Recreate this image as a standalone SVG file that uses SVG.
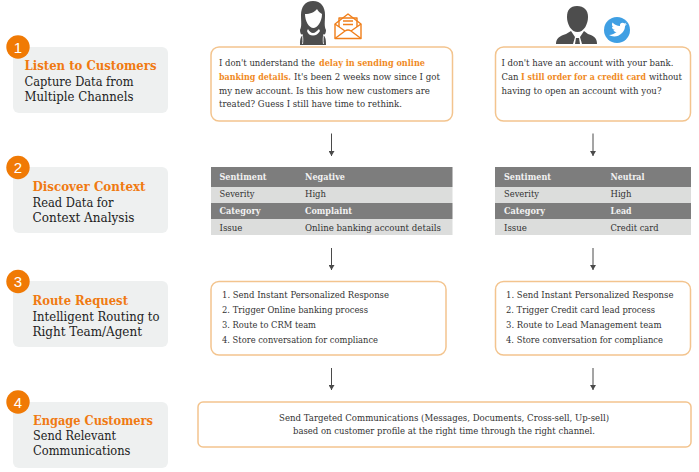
<svg xmlns="http://www.w3.org/2000/svg" width="699" height="472" viewBox="0 0 699 472">
<style>
text{font-family:"DejaVu Serif","Liberation Serif",serif;font-size:9.200px;fill:#333}
.h{font-size:13.500px;font-weight:bold;fill:#f07a12}
.s{font-size:13.500px;fill:#222}
.o{font-size:8.800px;font-weight:bold;fill:#f08a24}
.w{font-weight:bold;fill:#f2f2f2}
.n{font-family:"Liberation Sans",sans-serif;font-size:15px;fill:#fff;text-anchor:middle}
.p{fill:#eef0f0}
.c{fill:#f07a05}
.b{fill:#fff;stroke:#f3c48e;stroke-width:1.5}
.d{fill:#7d7d7d}
.l{fill:#dcdddc}
.a{stroke:#4a4a4a;stroke-width:1;fill:none;marker-end:url(#ah)}
.i{fill:#4d4d4d}
.e{fill:none;stroke:#f07f1a;stroke-width:1.400;stroke-linejoin:round}
</style>
<defs>
<marker id="ah" markerUnits="userSpaceOnUse" markerWidth="6" markerHeight="6" refX="5" refY="3" orient="auto"><path d="M0 0L5 3L0 6Z" fill="#4a4a4a"/></marker>
</defs>
<g id="connectors">
<path class="a" d="M331.500 133.500V156"/><path class="a" d="M593 133.500V156"/>
<path class="a" d="M331.500 248V270"/><path class="a" d="M593 248V270"/>
<path class="a" d="M331.500 368V390"/><path class="a" d="M593 368V390"/>
</g>
<g id="step1">
<rect class="p" x="13" y="47" width="155" height="66" rx="6"/>
<circle class="c" cx="18" cy="47" r="11.700"/><text class="n" x="18" y="52.500">1</text>
<text class="h" x="24.500" y="70" textLength="132" lengthAdjust="spacingAndGlyphs">Listen to Customers</text>
<text class="s" x="24.500" y="86" textLength="109" lengthAdjust="spacingAndGlyphs">Capture Data from</text>
<text class="s" x="24.500" y="101" textLength="109" lengthAdjust="spacingAndGlyphs">Multiple Channels</text>
</g>
<g id="step2">
<rect class="p" x="13" y="167" width="155" height="66" rx="6"/>
<circle class="c" cx="18" cy="167.500" r="11.700"/><text class="n" x="18" y="173">2</text>
<text class="h" x="32.500" y="191" textLength="113" lengthAdjust="spacingAndGlyphs">Discover Context</text>
<text class="s" x="32.500" y="207" textLength="81" lengthAdjust="spacingAndGlyphs">Read Data for</text>
<text class="s" x="32.500" y="222" textLength="102" lengthAdjust="spacingAndGlyphs">Context Analysis</text>
</g>
<g id="step3">
<rect class="p" x="13" y="281" width="155" height="66" rx="6"/>
<circle class="c" cx="18" cy="281.500" r="11.700"/><text class="n" x="18" y="287">3</text>
<text class="h" x="32.500" y="305" textLength="95.500" lengthAdjust="spacingAndGlyphs">Route Request</text>
<text class="s" x="32.500" y="321" textLength="127" lengthAdjust="spacingAndGlyphs">Intelligent Routing to</text>
<text class="s" x="32.500" y="336" textLength="109.500" lengthAdjust="spacingAndGlyphs">Right Team/Agent</text>
</g>
<g id="step4">
<rect class="p" x="13" y="402" width="155" height="66" rx="6"/>
<circle class="c" cx="18" cy="402" r="11.700"/><text class="n" x="18" y="407.500">4</text>
<text class="h" x="33" y="425" textLength="120" lengthAdjust="spacingAndGlyphs">Engage Customers</text>
<text class="s" x="33" y="440" textLength="83" lengthAdjust="spacingAndGlyphs">Send Relevant</text>
<text class="s" x="33" y="455" textLength="97.500" lengthAdjust="spacingAndGlyphs">Communications</text>
</g>
<g id="woman-icon">
<path class="i" d="M313 1C305 1 301 7 301 15C301 22 302 26 300 30C300 33 301 35 303 35C300 37 300 41 300 45H326C326 41 326 37 323 35C325 35 326 33 326 30C324 26 325 22 325 15C325 7 321 1 313 1Z"/>
<path d="M305 14C310 14 315 12 317 9C318 11 320 13 322 14C322 22 317 28 313.500 28C309 28 305 21 305 14Z" fill="#fff"/>
<path d="M308 29C309 31 311 33 313 33C315 33 317 31 319 29L320 31C318 34 316 35.500 313 35.500C310 35.500 308 34 307 31Z" fill="#fff"/>
<path d="M302 34C303 37 303 41 302.500 44M324 34C323 37 323 41 323.500 44" stroke="#fff" stroke-width="0.800" fill="none"/>
</g>
<g id="email-icon">
<path class="e" d="M335 24L348 14L361 24V38.500H335Z"/>
<path class="e" d="M339 27V18H357V27"/>
<path class="e" d="M335 24L345 31M361 24L351 31M335 38.500L345 31Q348 29 351 31L361 38.500"/>
<path class="e" d="M343 21H353M343 24.500H353"/>
</g>
<g id="man-icon">
<path class="i" d="M577 6C570 6 567 10 567 17C567 24 571 32 577.500 32C584 32 588 24 588 17C588 10 584 6 577 6Z"/>
<path class="i" d="M556 44C556 38 560 36 566 34L571 31L575 37L573 44ZM597 44C597 38 594 36 588 34L584 31L580 37L582 44Z"/>
<path class="i" d="M576 38H579L580 44H575Z"/>
</g>
<g id="twitter-icon">
<circle cx="617" cy="30" r="13" fill="#3f9fe3"/>
<path d="M609 35C612 37 618 37.500 622 33C625 30 625 27 625 26L627 24L625 24.500L626.500 22.500L624.500 23.500C623 22 619.500 22.500 620 26C617 26 614.500 24.500 612.500 22.500C611.500 24.500 612 26 613.500 27L612 26.700C612 28.500 613 29.500 615 30H613.500C614 31.500 615 32 616.500 32C615 33.500 612 35 609 35Z" fill="#fff"/>
</g>
<g id="message-left">
<rect class="b" x="211" y="47" width="241.500" height="74" rx="8"/>
<text x="219" y="66" textLength="96" lengthAdjust="spacingAndGlyphs">I don't understand the</text>
<text class="o" x="319" y="66" textLength="106" lengthAdjust="spacingAndGlyphs">delay in sending online</text>
<text class="o" x="219" y="80" textLength="72" lengthAdjust="spacingAndGlyphs">banking details.</text>
<text x="294" y="80" textLength="146" lengthAdjust="spacingAndGlyphs">It's been 2 weeks now since I got</text>
<text x="219" y="93.500" textLength="211" lengthAdjust="spacingAndGlyphs">my new account. Is this how new customers are</text>
<text x="219" y="107" textLength="183" lengthAdjust="spacingAndGlyphs">treated? Guess I still have time to rethink.</text>
</g>
<g id="message-right">
<rect class="b" x="495.500" y="47" width="195" height="74" rx="8"/>
<text x="501.500" y="66" textLength="172" lengthAdjust="spacingAndGlyphs">I don't have an account with your bank.</text>
<text x="501.500" y="80" textLength="17" lengthAdjust="spacingAndGlyphs">Can</text>
<text class="o" x="521" y="80" textLength="125" lengthAdjust="spacingAndGlyphs">I still order for a credit card</text>
<text x="649" y="80" textLength="33" lengthAdjust="spacingAndGlyphs">without</text>
<text x="501.500" y="93.500" textLength="160" lengthAdjust="spacingAndGlyphs">having to open an account with you?</text>
</g>
<g id="table-left">
<rect class="d" x="211" y="167" width="241.500" height="20"/><rect class="l" x="211" y="187" width="241.500" height="16"/>
<rect class="d" x="211" y="203" width="241.500" height="16"/><rect class="l" x="211" y="219" width="241.500" height="16"/>
<text class="w" x="219.500" y="180" textLength="47" lengthAdjust="spacingAndGlyphs">Sentiment</text><text class="w" x="305" y="180" textLength="40" lengthAdjust="spacingAndGlyphs">Negative</text>
<text x="219.500" y="197" textLength="35" lengthAdjust="spacingAndGlyphs">Severity</text><text x="305" y="197" textLength="21" lengthAdjust="spacingAndGlyphs">High</text>
<text class="w" x="219.500" y="214" textLength="41" lengthAdjust="spacingAndGlyphs">Category</text><text class="w" x="305" y="214" textLength="47" lengthAdjust="spacingAndGlyphs">Complaint</text>
<text x="219.500" y="231" textLength="23" lengthAdjust="spacingAndGlyphs">Issue</text><text x="305" y="231" textLength="136" lengthAdjust="spacingAndGlyphs">Online banking account details</text>
</g>
<g id="table-right">
<rect class="d" x="495" y="167" width="196" height="20"/><rect class="l" x="495" y="187" width="196" height="16"/>
<rect class="d" x="495" y="203" width="196" height="16"/><rect class="l" x="495" y="219" width="196" height="16"/>
<text class="w" x="504" y="180" textLength="47" lengthAdjust="spacingAndGlyphs">Sentiment</text><text class="w" x="610.500" y="180" textLength="34" lengthAdjust="spacingAndGlyphs">Neutral</text>
<text x="504" y="197" textLength="35" lengthAdjust="spacingAndGlyphs">Severity</text><text x="610.500" y="197" textLength="21" lengthAdjust="spacingAndGlyphs">High</text>
<text class="w" x="504" y="214" textLength="41" lengthAdjust="spacingAndGlyphs">Category</text><text class="w" x="610.500" y="214" textLength="21" lengthAdjust="spacingAndGlyphs">Lead</text>
<text x="504" y="231" textLength="23" lengthAdjust="spacingAndGlyphs">Issue</text><text x="610.500" y="231" textLength="48" lengthAdjust="spacingAndGlyphs">Credit card</text>
</g>
<g id="route-left">
<rect class="b" x="211" y="281.500" width="235" height="73.500" rx="8"/>
<text x="222" y="298" textLength="167" lengthAdjust="spacingAndGlyphs">1. Send Instant Personalized Response</text>
<text x="222" y="313" textLength="146" lengthAdjust="spacingAndGlyphs">2. Trigger Online banking process</text>
<text x="222" y="328" textLength="94" lengthAdjust="spacingAndGlyphs">3. Route to CRM team</text>
<text x="222" y="343" textLength="156" lengthAdjust="spacingAndGlyphs">4. Store conversation for compliance</text>
</g>
<g id="route-right">
<rect class="b" x="495.500" y="281.500" width="195" height="73.500" rx="8"/>
<text x="506" y="298" textLength="167.500" lengthAdjust="spacingAndGlyphs">1. Send Instant Personalized Response</text>
<text x="506" y="313" textLength="149" lengthAdjust="spacingAndGlyphs">2. Trigger Credit card lead process</text>
<text x="506" y="328" textLength="155.500" lengthAdjust="spacingAndGlyphs">3. Route to Lead Management team</text>
<text x="506" y="343" textLength="157" lengthAdjust="spacingAndGlyphs">4. Store conversation for compliance</text>
</g>
<g id="engage-box">
<rect class="b" x="198" y="402" width="493" height="45" rx="5"/>
<text x="279" y="421" textLength="330" lengthAdjust="spacingAndGlyphs">Send Targeted Communications (Messages, Documents, Cross-sell, Up-sell)</text>
<text x="293" y="434" textLength="302" lengthAdjust="spacingAndGlyphs">based on customer profile at the right time through the right channel.</text>
</g>
</svg>
